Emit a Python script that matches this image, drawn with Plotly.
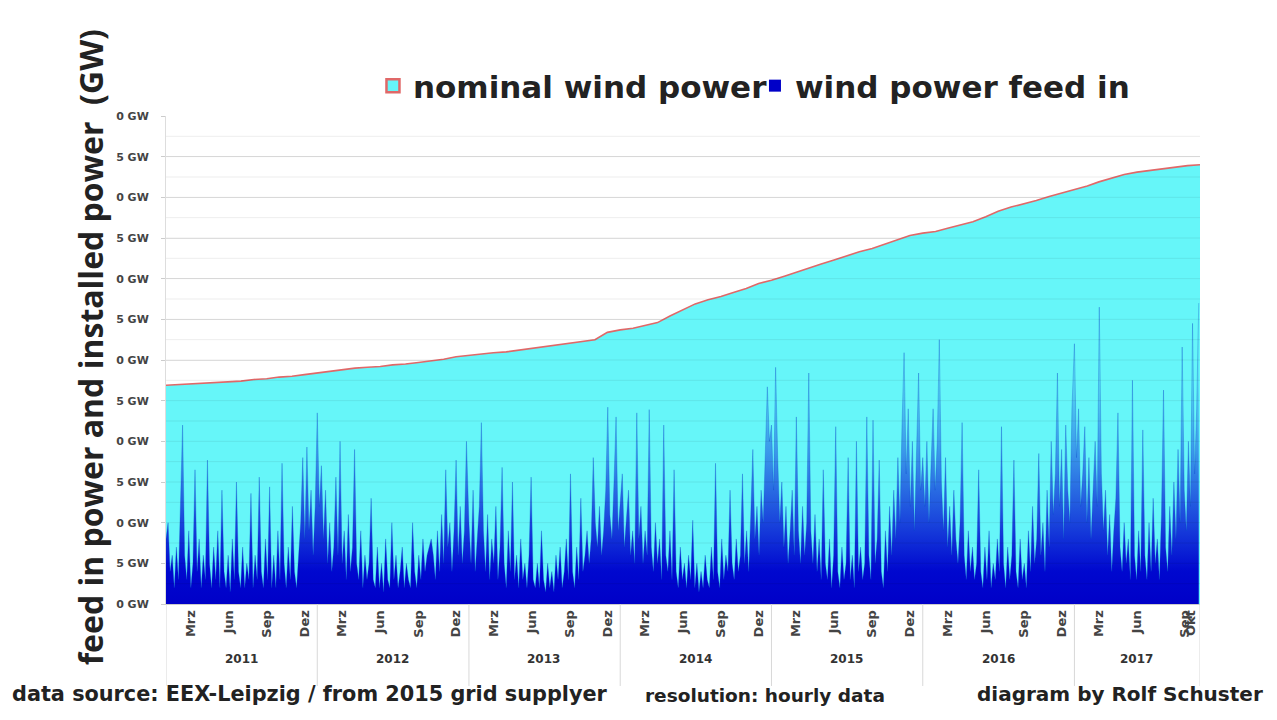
import plotly.graph_objects as go
import pandas as pd

# ---------------- data ----------------
# nominal (installed) wind power, GW, one value per month start, Jan 2011 .. Oct 2017, plus end of Oct 2017
nominal_gw = [
    26.9, 27.0, 27.0, 27.1, 27.2, 27.3, 27.4, 27.6, 27.7, 27.9, 28.0, 28.2,
    28.4, 28.6, 28.8, 29.0, 29.1, 29.2, 29.4, 29.5, 29.7, 29.9, 30.1, 30.4,
    30.6, 30.8, 30.9, 31.0, 31.2, 31.4, 31.6, 31.8, 32.0, 32.2, 32.5, 33.4,
    33.7, 33.9, 34.2, 34.6, 35.4, 36.2, 36.9, 37.4, 37.8, 38.3, 38.8, 39.4,
    39.8, 40.3, 40.8, 41.3, 41.8, 42.3, 42.8, 43.3, 43.7, 44.2, 44.8, 45.3,
    45.6, 45.8, 46.2, 46.6, 47.0, 47.6, 48.3, 48.8, 49.2, 49.6, 50.1, 50.5,
    50.9, 51.4, 51.9, 52.4, 52.8, 53.1, 53.3, 53.5, 53.7, 53.9, 54.0,
]

# wind power feed in, GW, one reading every 5 days within each year
feed_2011 = [8, 10, 4, 6, 2, 7, 3, 12, 22, 6, 3, 9, 2, 5, 16.5, 4, 8, 2, 6, 3,
             17.7, 5, 2, 7, 3, 9, 2, 14, 4, 2, 6, 1.5, 8, 3, 15, 4, 2, 7, 2, 5,
             3, 13.6, 2, 6, 3, 15.6, 4, 2, 8, 3, 14.4, 2, 6, 2, 9, 3, 17.3, 5, 2, 7,
             3, 12, 4, 2, 6, 10, 18, 8, 19.3, 9, 14, 6, 12]
feed_2012 = [23.5, 12, 17, 8, 14, 5, 10, 4, 7, 15.6, 6, 20, 5, 9, 3, 11, 4, 7, 19, 5,
             3, 9, 2, 6, 3, 5, 13, 3, 2, 7, 2, 5, 1.5, 8, 3, 2, 10, 3, 6, 2,
             4, 7, 2, 5, 3, 2, 10, 4, 2, 6, 3, 8, 4, 6, 7, 8, 6, 3, 9, 4,
             11, 5, 16.5, 7, 10, 4, 9, 17.7, 6, 12, 5, 9, 20]
feed_2013 = [10, 5, 14, 4, 8, 12, 22.3, 9, 4, 11, 3, 8, 5, 12, 3, 7, 16.8, 5, 2, 9,
             4, 15, 3, 6, 2, 8, 3, 5, 2, 6, 15.6, 3, 2, 5, 2, 9, 3, 1.5, 5, 2,
             4, 1.5, 6, 3, 7, 2, 4, 8, 3, 16, 4, 2, 7, 3, 13, 4, 6, 9, 5, 8,
             18, 10, 7, 12, 6, 9, 14, 24.2, 11, 8, 15, 23, 9]
feed_2014 = [12, 16, 7, 10, 14, 6, 9, 5, 23.5, 8, 12, 5, 9, 6, 23.9, 7, 4, 10, 5, 8,
             3, 22, 6, 4, 9, 3, 16.5, 4, 2, 7, 3, 5, 2, 6, 3, 10.3, 2, 5, 1.5, 4,
             2, 6, 3, 2, 7, 3, 17.3, 4, 2, 8, 3, 6, 4, 14, 5, 3, 8, 4, 6, 16,
             5, 9, 4, 11, 19, 8, 12, 6, 14, 10, 18, 26.7, 20]
feed_2015 = [22, 14, 29.1, 18, 10, 15, 7, 12, 5, 9, 14, 6, 23, 9, 5, 12, 6, 10, 28.4, 9,
             5, 11, 4, 8, 3, 16.5, 5, 3, 8, 2, 6, 21.8, 4, 2, 7, 3, 5, 18, 3, 6,
             2, 20, 4, 7, 3, 5, 23, 6, 3, 22.6, 5, 8, 17.7, 4, 2, 9, 4, 12, 6, 14,
             8, 18, 10, 22, 30.9, 16, 24, 12, 20, 9, 18, 28.4, 14]
feed_2016 = [18, 12, 20, 10, 16, 24, 14, 20, 32.5, 15, 9, 18, 7, 12, 6, 14, 8, 5, 10, 22.3,
             6, 3, 9, 4, 7, 3, 5, 16.5, 4, 2, 7, 3, 9, 2, 5, 3, 8, 4, 21.8, 5,
             2, 7, 3, 6, 17.7, 4, 2, 8, 3, 5, 2, 9, 4, 12, 5, 8, 18.5, 6, 10, 4,
             14, 7, 20, 11, 16, 28.4, 12, 19, 8, 22, 14, 10, 24]
feed_2017 = [32, 18, 24, 12, 16, 21.8, 10, 18, 8, 14, 20, 12, 36.5, 16, 9, 14, 6, 11, 4, 9,
             13, 23.5, 7, 4, 10, 5, 8, 3, 27.5, 6, 3, 9, 4, 21.4, 6, 3, 10, 4, 13, 5,
             8, 3, 11, 26.3, 7, 4, 12, 6, 15, 8, 19, 10, 31.6, 14, 9, 20, 12, 34.5, 16, 24,
             37]

feed_by_year = {2011: feed_2011, 2012: feed_2012, 2013: feed_2013, 2014: feed_2014,
                2015: feed_2015, 2016: feed_2016, 2017: feed_2017}

years = [2011, 2012, 2013, 2014, 2015, 2016, 2017]
month_labels = ["Mrz", "Jun", "Sep", "Dez"]
month_labels_2017 = ["Mrz", "Jun", "Sep", "Okt"]
y_tick_values = [0, 5, 10, 15, 20, 25, 30, 35, 40, 45, 50, 55, 60]
y_tick_labels = ["0 GW", "5 GW", "0 GW", "5 GW", "0 GW", "5 GW", "0 GW",
                 "5 GW", "0 GW", "5 GW", "0 GW", "5 GW", "0 GW"]

legend_nominal = "nominal wind power"
legend_feed = "wind power feed in"
y_title = "feed in power and installed power  (GW)"
footer_left = "data source: EEX-Leipzig / from 2015 grid supplyer"
footer_mid = "resolution: hourly data"
footer_right = "diagram by Rolf Schuster"

# ---------------- build series ----------------
nominal_dates = list(pd.date_range("2011-01-01", periods=len(nominal_gw) - 1, freq="MS")) + [pd.Timestamp("2017-10-31")]

feed_dates, feed_vals = [], []
for yr in years:
    vals = feed_by_year[yr]
    feed_dates += list(pd.date_range(f"{yr}-01-01", periods=len(vals), freq="5D"))
    feed_vals += vals

CYAN = "#66F6F9"
DARK = "#0000C8"
RED = "#E06868"
TXT = "#222222"

fig = go.Figure()

fig.add_trace(go.Scatter(
    x=nominal_dates, y=nominal_gw, mode="lines", fill="tozeroy",
    fillcolor=CYAN, line=dict(color=RED, width=1.6), showlegend=False,
    hoverinfo="skip"))

fig.add_trace(go.Scatter(
    x=feed_dates, y=feed_vals, mode="lines", fill="tozeroy",
    line=dict(color="rgba(10,70,200,0.5)", width=0.6),
    fillgradient=dict(type="vertical", start=0, stop=34,
                      colorscale=[[0, "#0000C8"], [0.12, "#0008CF"], [0.3, "#1a46dc"],
                                  [0.55, "#3a98ea"], [0.8, "#55d6f3"], [1, "#62eef7"]]),
    showlegend=False, hoverinfo="skip"))

# legend entries
fig.add_trace(go.Scatter(x=[None], y=[None], mode="markers", name=legend_nominal,
                         marker=dict(symbol="square", size=13, color=CYAN,
                                     line=dict(color=RED, width=2.5))))
fig.add_trace(go.Scatter(x=[None], y=[None], mode="markers", name=legend_feed,
                         marker=dict(symbol="square", size=12, color=DARK,
                                     line=dict(width=0))))

# month ticks
tick_vals, tick_text = [], []
for yr in years:
    if yr < 2017:
        for m, lab in zip([3, 6, 9, 12], month_labels):
            tick_vals.append(pd.Timestamp(yr, m, 1))
            tick_text.append(lab)
    else:
        for d, lab in zip([pd.Timestamp(2017, 3, 1), pd.Timestamp(2017, 6, 1),
                           pd.Timestamp(2017, 9, 24), pd.Timestamp(2017, 10, 8)],
                          month_labels_2017):
            tick_vals.append(d)
            tick_text.append(lab)

shapes = []
# horizontal gridlines drawn above the fills (as in the original)
for v in [i * 2.5 for i in range(1, 24)]:
    shapes.append(dict(type="line", xref="paper", yref="y", x0=0, x1=1, y0=v, y1=v,
                       line=dict(color="rgba(0,0,0,0.07)", width=1), layer="above"))
# year separators below the axis
for yr in years + [2018]:
    xd = pd.Timestamp(yr, 1, 1) if yr <= 2017 else pd.Timestamp(2017, 10, 31)
    shapes.append(dict(type="line", xref="x", yref="paper", x0=xd, x1=xd, y0=0, y1=-0.168,
                       line=dict(color="#d8d8d8", width=1)))

annotations = []
for yr in years:
    mid = pd.Timestamp(yr, 7, 1) if yr < 2017 else pd.Timestamp(2017, 5, 31)
    annotations.append(dict(x=mid, y=-0.131, xref="x", yref="paper", text=str(yr),
                            showarrow=False, font=dict(size=12, color="#333", family="DejaVu Sans", weight="bold")))

annotations.append(dict(x=-0.0735, y=0.526, xref="paper", yref="paper", text=y_title,
                        textangle=-90, showarrow=False, xanchor="center", yanchor="middle",
                        font=dict(size=32, color=TXT, family="Open Sans", weight="bold")))
annotations.append(dict(x=-0.151, y=-0.213, xref="paper", yref="paper", text=footer_left,
                        xanchor="left", showarrow=False,
                        font=dict(size=20.8, color=TXT, family="DejaVu Sans", weight="bold")))
annotations.append(dict(x=0.461, y=-0.213, xref="paper", yref="paper", text=footer_mid,
                        xanchor="left", showarrow=False,
                        font=dict(size=18.5, color=TXT, family="DejaVu Sans", weight="bold")))
annotations.append(dict(x=1.063, y=-0.213, xref="paper", yref="paper", text=footer_right,
                        xanchor="right", showarrow=False,
                        font=dict(size=20, color=TXT, family="DejaVu Sans", weight="bold")))

fig.update_layout(
    width=1277, height=720,
    margin=dict(l=158, r=85, t=108, b=124, autoexpand=False),
    paper_bgcolor="white", plot_bgcolor="white",
    showlegend=True,
    legend=dict(orientation="h", xref="container", yref="container",
                x=0.2858, y=1 - 51 / 720, xanchor="left", yanchor="top",
                font=dict(size=31, color=TXT, family="DejaVu Sans", weight="bold"),
                itemwidth=30, tracegroupgap=0, bgcolor="rgba(0,0,0,0)",
                entrywidth=337, entrywidthmode="pixels"),
    xaxis=dict(type="date", range=[pd.Timestamp("2011-01-01"), pd.Timestamp("2017-10-31")],
               showgrid=False, zeroline=False, tickmode="array", automargin=False,
               tickvals=tick_vals, ticktext=tick_text, tickangle=-90,
               ticks="", showline=True, linecolor="#cccccc",
               tickfont=dict(size=13, color="#444", family="DejaVu Sans", weight="bold")),
    yaxis=dict(range=[0, 60], tickmode="array", tickvals=y_tick_values, ticktext=y_tick_labels,
               showgrid=True, gridcolor="#e6e6e6", zeroline=False, automargin=False,
               showline=True, linecolor="#dddddd", ticks="outside", ticklen=4, tickcolor="#cccccc",
               ticklabelstandoff=10,
               tickfont=dict(size=11, color="#444", family="DejaVu Sans", weight="bold")),
    shapes=shapes, annotations=annotations,
)

fig.write_html("out.html")
